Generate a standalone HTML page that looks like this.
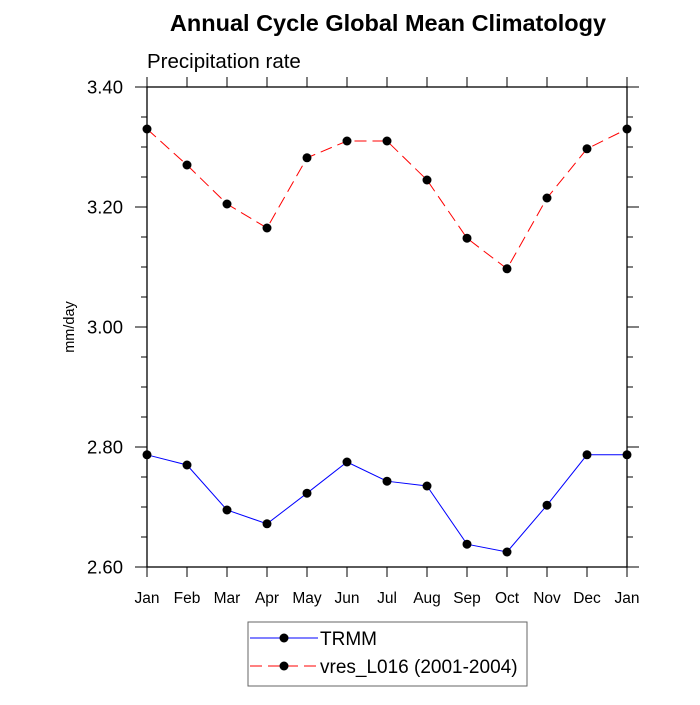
<!DOCTYPE html>
<html><head><meta charset="utf-8"><style>
body{margin:0;background:#fff;font-family:"Liberation Sans",sans-serif}
svg text{font-family:"Liberation Sans",sans-serif}
</style></head><body>
<svg id="chart" width="700" height="700">
<text x="388" y="31" font-size="23.5" font-weight="bold" text-anchor="middle">Annual Cycle Global Mean Climatology</text>
<text x="147" y="68" font-size="20.5">Precipitation rate</text>
<text transform="translate(74,327) rotate(-90)" font-size="14.5" text-anchor="middle">mm/day</text>
<g id="axes"></g>
<g id="series"></g>
<rect x="248" y="622" width="279" height="64" fill="none" stroke="#666" stroke-width="1"/>
<g>
<line x1="250" y1="638" x2="318" y2="638" stroke="#00f" stroke-width="1"/>
<circle cx="284" cy="638" r="4.5" fill="#000"/>
<text x="320" y="645" font-size="19">TRMM</text>
</g>
<g>
<line x1="250" y1="666" x2="318" y2="666" stroke="#f00" stroke-width="1" stroke-dasharray="12,6"/>
<circle cx="284" cy="666" r="4.5" fill="#000"/>
<text x="320" y="673" font-size="19">vres_L016 (2001-2004)</text>
</g>
</svg>
<script>
const months=["Jan","Feb","Mar","Apr","May","Jun","Jul","Aug","Sep","Oct","Nov","Dec","Jan"];
const trmm=[2.787,2.77,2.695,2.672,2.723,2.775,2.743,2.735,2.638,2.625,2.703,2.787,2.787];
const vres=[3.33,3.27,3.205,3.165,3.282,3.31,3.31,3.245,3.148,3.097,3.215,3.297,3.33];
const yTicks=["2.60","2.80","3.00","3.20","3.40"];
const L=147,R=627,T=87,B=567,ymin=2.6,ymax=3.4;
const xs=i=>L+(R-L)*i/(months.length-1);
const ys=v=>B-(v-ymin)/(ymax-ymin)*(B-T);
const NS="http://www.w3.org/2000/svg";
function mk(p,tag,at){const e=document.createElementNS(NS,tag);for(const k in at)e.setAttribute(k,at[k]);p.appendChild(e);return e;}
const ax=document.getElementById('axes');
const frame=mk(ax,'rect',{x:L,y:T,width:R-L,height:B-T,fill:'none',stroke:'#000','stroke-width':1.3});


months.forEach((m,i)=>{const x=xs(i);
mk(ax,'line',{x1:x,y1:B,x2:x,y2:B+10,stroke:'#000'});
mk(ax,'line',{x1:x,y1:T,x2:x,y2:T-10,stroke:'#000'});
const t=mk(ax,'text',{x:x,y:B+36,'font-size':15.5,'text-anchor':'middle'});t.textContent=m;

});
for(let v=ymin;v<=ymax+1e-9;v+=0.05){const y=ys(v);const major=Math.abs(Math.round(v/0.2)*0.2-v)<1e-6;const len=major?12:6;
mk(ax,'line',{x1:L-len,y1:y,x2:L,y2:y,stroke:'#000'});
mk(ax,'line',{x1:R,y1:y,x2:R+len,y2:y,stroke:'#000'});}
yTicks.forEach(s=>{const t=mk(ax,'text',{x:L-24,y:ys(parseFloat(s))+6.5,'font-size':18.5,'text-anchor':'end'});t.textContent=s;

});
const sg=document.getElementById('series');
function draw(vals,color,dash,name){
const pl=mk(sg,'polyline',{points:vals.map((v,i)=>xs(i)+','+ys(v)).join(' '),fill:'none',stroke:color,'stroke-width':1,'stroke-dasharray':dash});


vals.forEach((v,i)=>{const c=mk(sg,'circle',{cx:xs(i),cy:ys(v),r:4.5,fill:'#000'});

});}
draw(trmm,'#00f','none','trmm');
draw(vres,'#f00','12,6','vres');
</script>
</body></html>
